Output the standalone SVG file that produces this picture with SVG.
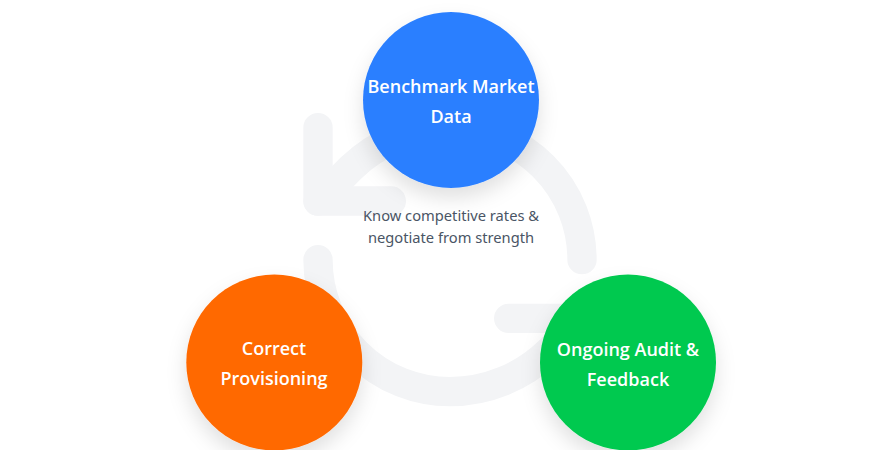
<svg xmlns="http://www.w3.org/2000/svg" width="893" height="450" viewBox="0 0 893 450">
  <defs>
    <filter id="shadow" x="-30%" y="-30%" width="160%" height="170%">
      <feDropShadow dx="0" dy="10" stdDeviation="10" flood-color="#000" flood-opacity="0.12"/>
    </filter>
    <style>
      .cycle { fill: none; stroke: #f3f4f6; stroke-width: 2; stroke-linecap: round; stroke-linejoin: round; }
      .node-label { font-family: "Open Sans", "Noto Sans", "Liberation Sans", sans-serif; font-size: 18px; font-weight: 600; fill: #ffffff; text-anchor: middle; }
      .center-label { font-family: "Noto Sans", "Open Sans", "Liberation Sans", sans-serif; font-size: 14.7px; fill: #4a5565; text-anchor: middle; }
    </style>
  </defs>
  <rect width="893" height="450" fill="#ffffff"/>

  <g id="connectors">
    <g transform="translate(274 83.7) scale(14.667)">
      <path class="cycle" d="M21 12a9 9 0 0 0-9-9 9.75 9.75 0 0 0-6.74 2.74L3 8"/>
      <path class="cycle" d="M3 3v5h5"/>
      <path class="cycle" d="M3 12a9 9 0 0 0 9 9 9.75 9.75 0 0 0 6.74-2.74L21 16"/>
      <path class="cycle" d="M16 16h5v5"/>
    </g>
  </g>

  <g id="center-text">
    <text class="center-label" x="451" y="220.5">Know competitive rates &amp;</text>
    <text class="center-label" x="451" y="242.5">negotiate from strength</text>
  </g>

  <g id="node-benchmark">
    <circle cx="451" cy="100" r="88" fill="#2b7fff" filter="url(#shadow)"/>
    <text class="node-label" x="451" y="92.7">Benchmark Market</text>
    <text class="node-label" x="451" y="122.7">Data</text>
  </g>

  <g id="node-provisioning">
    <circle cx="274.3" cy="362.5" r="88" fill="#ff6900" filter="url(#shadow)"/>
    <text class="node-label" x="274" y="355.3">Correct</text>
    <text class="node-label" x="274" y="385.3">Provisioning</text>
  </g>

  <g id="node-audit">
    <circle cx="628" cy="362.5" r="88" fill="#00c950" filter="url(#shadow)"/>
    <text class="node-label" x="628" y="355.5">Ongoing Audit &amp;</text>
    <text class="node-label" x="628" y="385.5">Feedback</text>
  </g>
</svg>
